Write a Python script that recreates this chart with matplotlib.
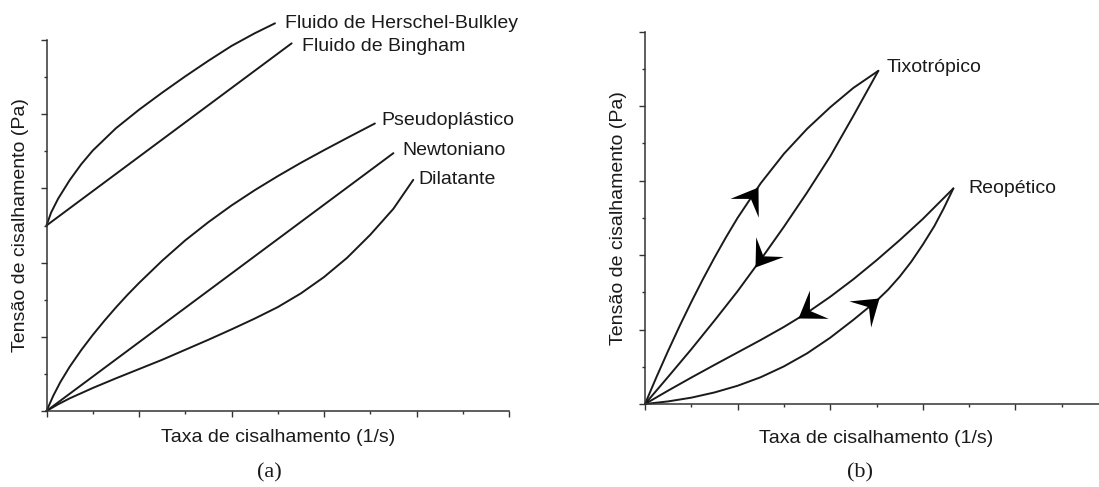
import matplotlib
matplotlib.use("Agg")
import matplotlib.pyplot as plt
import numpy as np
from matplotlib.markers import MarkerStyle
from matplotlib.path import Path
from matplotlib.transforms import Affine2D

plt.rcParams['font.family'] = ['Liberation Sans', 'DejaVu Sans']

# ---- panel (a): flow curves (arbitrary units) ----
hb_x = [0, 0.1, 0.25, 0.5, 0.75, 1.0, 1.5, 2.0, 2.5, 3.0, 3.5, 4.0, 4.5, 4.94]
hb_y = [5.0, 5.35, 5.72, 6.22, 6.65, 7.02, 7.62, 8.12, 8.58, 9.02, 9.44, 9.84, 10.18, 10.45]

bingham_x = [0, 5.30]
bingham_y = [5.0, 9.91]

pseudo_x = [0, 0.15, 0.3, 0.5, 0.75, 1.0, 1.25, 1.5, 1.75, 2.0, 2.5, 3.0, 3.5,
            4.0, 4.5, 5.0, 5.5, 6.0, 6.5, 7.1]
pseudo_y = [0, 0.42, 0.78, 1.19, 1.64, 2.05, 2.43, 2.79, 3.13, 3.45, 4.05, 4.60, 5.09,
            5.54, 5.95, 6.33, 6.69, 7.03, 7.36, 7.75]

newton_x = [0, 7.50]
newton_y = [0, 6.95]

dil_x = [0, 0.25, 0.5, 1.0, 1.5, 2.0, 2.5, 3.0, 3.5, 4.0, 4.5, 5.0, 5.5, 6.0, 6.5,
         7.0, 7.5, 7.93]
dil_y = [0, 0.18, 0.34, 0.62, 0.88, 1.13, 1.38, 1.65, 1.92, 2.20, 2.49, 2.80, 3.17,
         3.61, 4.13, 4.75, 5.45, 6.23]

labels_a = ["Fluido de Herschel-Bulkley", "Fluido de Bingham", "Pseudoplástico",
            "Newtoniano", "Dilatante"]
label_a_x = [5.16, 5.52, 7.25, 7.69, 8.04]
label_a_y = [10.45, 9.82, 7.84, 7.03, 6.23]

# ---- panel (b): hysteresis loops ----
tixo_up_x = [0, 0.25, 0.5, 0.75, 1.0, 1.25, 1.5, 1.75, 2.0, 2.5, 3.0, 3.5, 4.0, 4.5, 5.04]
tixo_up_y = [0, 0.73, 1.43, 2.10, 2.74, 3.35, 3.93, 4.48, 5.0, 5.93, 6.72, 7.39, 7.97,
             8.49, 8.95]
tixo_down_x = [5.04, 4.5, 4.0, 3.5, 3.0, 2.5, 2.0, 1.5, 1.0, 0.5, 0]
tixo_down_y = [8.95, 7.74, 6.65, 5.68, 4.76, 3.88, 3.03, 2.24, 1.47, 0.73, 0]

reo_up_x = [0, 0.5, 1.0, 1.5, 2.0, 2.5, 3.0, 3.5, 4.0, 4.5, 5.0, 5.25, 5.5, 5.75,
            6.0, 6.25, 6.45, 6.66]
reo_up_y = [0, 0.07, 0.17, 0.31, 0.49, 0.72, 1.01, 1.36, 1.78, 2.26, 2.77, 3.07, 3.42,
            3.82, 4.28, 4.78, 5.25, 5.79]
reo_down_x = [6.66, 6.0, 5.5, 5.0, 4.5, 4.0, 3.5, 3.0, 2.5, 2.0, 1.5, 1.0, 0.5, 0]
reo_down_y = [5.79, 4.97, 4.40, 3.86, 3.35, 2.88, 2.45, 2.07, 1.72, 1.385, 1.05, 0.71,
              0.36, 0]

# arrow tip and a point behind it on the same curve
arrow_tip_x = [2.44, 2.38, 3.31, 5.06]
arrow_tip_y = [5.82, 3.68, 2.31, 2.84]
arrow_tail_x = [2.0, 3.0, 4.0, 4.5]
arrow_tail_y = [5.0, 4.76, 2.88, 2.26]

labels_b = ["Tixotrópico", "Reopético"]
label_b_x = [5.22, 6.98]
label_b_y = [9.03, 5.79]

W, H = 1099, 487
fig = plt.figure(figsize=(W / 100, H / 100), dpi=100)
ink = "#1a1a1a"
fs = 14


def setup_axes(rect):
    ax = fig.add_axes(rect)
    ax.set_xlim(0, 10)
    ax.set_ylim(0, 10)
    for s in ("top", "right"):
        ax.spines[s].set_visible(False)
    for s in ("left", "bottom"):
        ax.spines[s].set_color("#333333")
        ax.spines[s].set_linewidth(1.1)
    ax.set_xticks(np.arange(0, 11, 2))
    ax.set_xticks(np.arange(1, 10, 2), minor=True)
    ax.set_yticks(np.arange(0, 11, 2))
    ax.set_yticks(np.arange(1, 10, 2), minor=True)
    ax.tick_params(which="major", length=4.5, width=1.0, color="#333333",
                   labelbottom=False, labelleft=False)
    ax.tick_params(which="minor", length=2.5, width=1.0, color="#333333")
    ax.set_xlabel("Taxa de cisalhamento (1/s)", fontsize=fs, color=ink, va="center")
    ax.set_ylabel("Tensão de cisalhamento (Pa)", fontsize=fs, color=ink, va="center")
    return ax


ax_a = setup_axes([46.5 / W, (H - 411) / H, 462.5 / W, 371 / H])
ax_a.xaxis.set_label_coords(0.5, -0.072)
ax_a.yaxis.set_label_coords(-0.057, 0.5)

lw = 1.4
for xs, ys in [(hb_x, hb_y), (bingham_x, bingham_y), (pseudo_x, pseudo_y),
               (newton_x, newton_y), (dil_x, dil_y)]:
    ax_a.plot(xs, ys, color=ink, lw=lw, clip_on=False,
              solid_capstyle="round", solid_joinstyle="round")
for s, x, y in zip(labels_a, label_a_x, label_a_y):
    ax_a.text(x, y, s, fontsize=fs, color=ink, ha="left", va="center", clip_on=False)

ax_b = setup_axes([645 / W, (H - 404) / H, 463 / W, 372.3 / H])
ax_b.xaxis.set_label_coords(0.5, -0.092)
ax_b.yaxis.set_label_coords(-0.058, 0.5)

for xs, ys in [(tixo_up_x, tixo_up_y), (tixo_down_x, tixo_down_y),
               (reo_up_x, reo_up_y), (reo_down_x, reo_down_y)]:
    ax_b.plot(xs, ys, color=ink, lw=lw, clip_on=False,
              solid_capstyle="round", solid_joinstyle="round")
for s, x, y in zip(labels_b, label_b_x, label_b_y):
    ax_b.text(x, y, s, fontsize=fs, color=ink, ha="left", va="center", clip_on=False)

# stealth-like arrowheads, tip at the origin of the marker path
head = Path([(0, 0), (-1, 0.68), (-0.55, 0), (-1, -0.68), (0, 0)],
            [Path.MOVETO, Path.LINETO, Path.LINETO, Path.LINETO, Path.CLOSEPOLY])
for tx, ty, bx, by in zip(arrow_tip_x, arrow_tip_y, arrow_tail_x, arrow_tail_y):
    p1 = ax_b.transData.transform((bx, by))
    p2 = ax_b.transData.transform((tx, ty))
    ang = np.degrees(np.arctan2(p2[1] - p1[1], p2[0] - p1[0]))
    m = MarkerStyle(head, transform=Affine2D().rotate_deg(ang))
    ax_b.plot([tx], [ty], marker=m, markersize=36, color="black",
              markeredgewidth=0, linestyle="none", clip_on=False)

fig.text(269 / W, 1 - 473 / H, "(a)", fontsize=16, family="Liberation Serif",
         ha="center", va="center", color=ink)
fig.text(860 / W, 1 - 473 / H, "(b)", fontsize=16, family="Liberation Serif",
         ha="center", va="center", color=ink)

fig.savefig("out.png", dpi=100, facecolor="white")
